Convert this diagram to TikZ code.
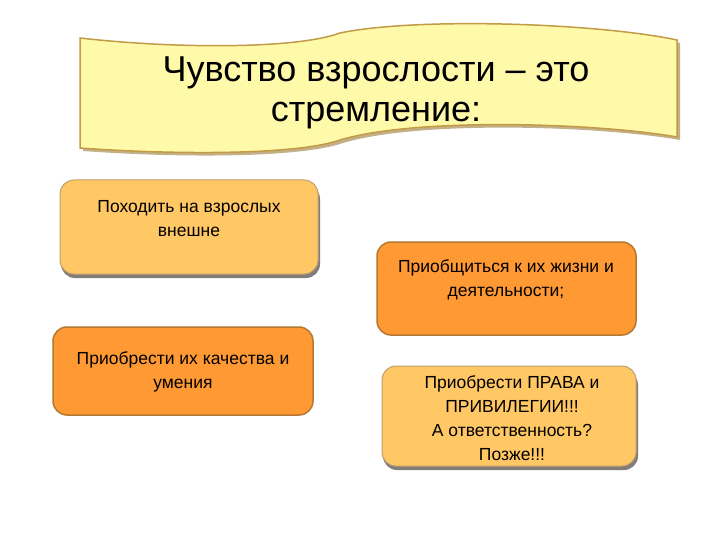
\documentclass[tikz,border=0pt]{standalone}
\usepackage{fontspec}
\setmainfont{Liberation Sans}
\begin{document}
\begin{tikzpicture}[x=1pt,y=-1pt,
  lightbox/.style={rounded corners=14pt, fill=boxlight, draw=boxlightline, line width=1pt},
  darkbox/.style={rounded corners=14pt, fill=boxdark, draw=boxdarkline, line width=1.5pt},
  boxtext/.style={font=\fontsize{17.5}{24}\selectfont, align=center, text=black},
  shadowbox/.style={rounded corners=14pt, fill=shadowgray}
]
\definecolor{boxlight}{RGB}{255,200,100}
\definecolor{boxlightline}{RGB}{190,160,110}
\definecolor{boxdark}{RGB}{255,153,51}
\definecolor{boxdarkline}{RGB}{180,120,50}
\definecolor{shadowgray}{RGB}{130,125,120}
\definecolor{bannerfill}{RGB}{255,250,170}
\definecolor{bannerline}{RGB}{195,155,70}
\useasboundingbox (0,0) rectangle (720,540);
\fill[white] (0,0) rectangle (720,540);

% banner shadow
\fill[bannerline!80!black!60] (83,41) .. controls (180,52) and (300,52) .. (343,36)
  .. controls (420,20) and (600,26) .. (680,43) -- (680,140)
  .. controls (600,126) and (420,120) .. (343,143)
  .. controls (300,158) and (180,158) .. (83,151) -- cycle;
% banner
\filldraw[fill=bannerfill, draw=bannerline, line width=1.5pt]
  (80,38) .. controls (177,49) and (297,49) .. (340,33)
  .. controls (417,17) and (597,23) .. (677,40) -- (677,137)
  .. controls (597,123) and (417,117) .. (340,140)
  .. controls (297,155) and (177,155) .. (80,148) -- cycle;
\node[font=\fontsize{36}{40}\selectfont, align=center] (title) at (376,93)
  {Чувство взрослости – это\\стремление:};

% box 1
\fill[shadowgray, rounded corners=14pt] (61,185) rectangle (320,278);
\draw[lightbox] (60,180) rectangle (318,274);
\node[boxtext] (b1) at (189,219) {Походить на взрослых\\внешне};

% box 2
\draw[darkbox] (377,242) rectangle (636,335);
\node[boxtext] (b2) at (506,280) {Приобщиться к их жизни и\\деятельности;};

% box 3
\draw[darkbox] (53,327) rectangle (313,415);
\node[boxtext] (b3) at (183,372) {Приобрести их качества и\\умения};

% box 4
\fill[shadowgray, rounded corners=14pt] (383,371) rectangle (638,470);
\draw[lightbox] (382,366) rectangle (636,466);
\node[boxtext] (b4) at (512,418) {Приобрести ПРАВА и\\ПРИВИЛЕГИИ!!!\\ А ответственность?\\Позже!!!};
\end{tikzpicture}
\end{document}
